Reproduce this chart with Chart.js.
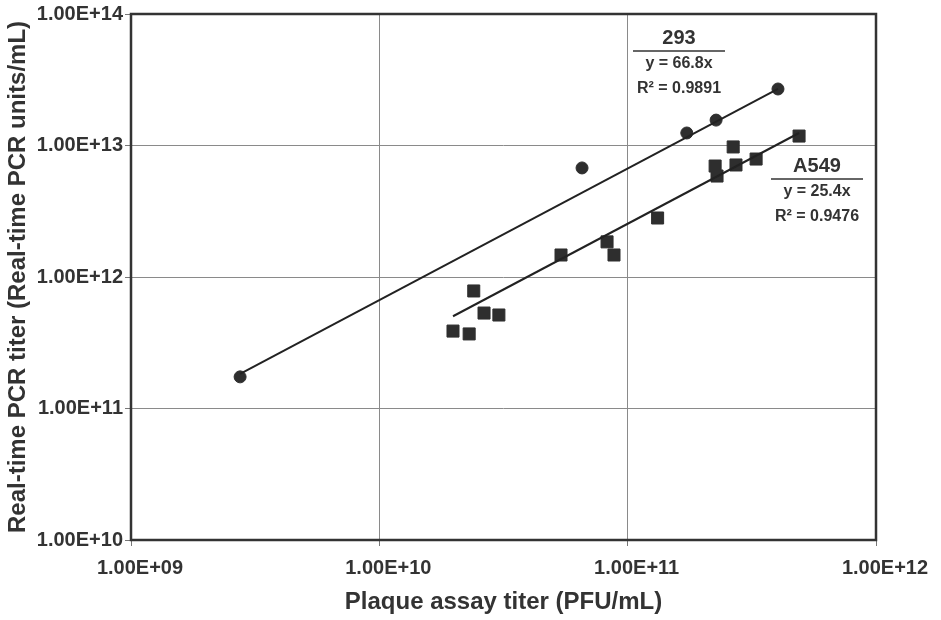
<!DOCTYPE html>
<html>
<head>
<meta charset="utf-8">
<title>Real-time PCR vs plaque assay titer</title>
<script src="https://cdn.jsdelivr.net/npm/chart.js@4.4.1/dist/chart.umd.min.js"></script>
<style>
  body { margin: 0; background: #fff; }
  canvas { display: block; }
</style>
</head>
<body>
<canvas id="titerChart" width="941" height="620"></canvas>
<script>
// Plaque assay titer (PFU/mL) vs real-time PCR titer, two cell lines
const cells293X = [2.75e9, 6.55e10, 1.73e11, 2.27e11, 4.03e11];
const cells293Y = [1.74e11, 6.75e12, 1.245e13, 1.56e13, 2.69e13];

const a549X = [1.98e10, 2.30e10, 2.40e10, 2.64e10, 3.03e10, 5.39e10, 8.26e10, 8.81e10,
  1.32e11, 2.25e11, 2.29e11, 2.66e11, 2.73e11, 3.29e11, 4.90e11];
const a549Y = [3.88e11, 3.69e11, 7.83e11, 5.32e11, 5.14e11, 1.47e12, 1.85e12, 1.47e12,
  2.81e12, 6.98e12, 5.86e12, 9.75e12, 7.11e12, 7.89e12, 1.18e13];

// trendline slopes (y = kx)
const slope293 = 66.8;
const slopeA549 = 25.4;
const r2_293 = "0.9891";
const r2_A549 = "0.9476";

const xTicks = [1e9, 1e10, 1e11, 1e12];
const xTickLabels = ["1.00E+09", "1.00E+10", "1.00E+11", "1.00E+12"];
const yTicks = [1e10, 1e11, 1e12, 1e13, 1e14];
const yTickLabels = ["1.00E+10", "1.00E+11", "1.00E+12", "1.00E+13", "1.00E+14"];

const ink = "#333333";
const fontFamily = "'Liberation Sans', Arial, Helvetica, sans-serif";

function toPoints(xs, ys) {
  return xs.map((x, i) => ({ x: x, y: ys[i] }));
}

function fitLine(xs, k) {
  const lo = Math.min(...xs);
  const hi = Math.max(...xs);
  return [{ x: lo, y: k * lo }, { x: hi, y: k * hi }];
}

// frame around the plot area plus the equation boxes
const framePlugin = {
  id: "frame",
  afterDraw(chart) {
    const { ctx, chartArea: a } = chart;
    ctx.save();
    ctx.strokeStyle = ink;
    ctx.lineWidth = 2.5;
    ctx.strokeRect(a.left, a.top, a.right - a.left, a.bottom - a.top);

    function label(cx, title, k, r2, y0) {
      ctx.fillStyle = ink;
      ctx.textAlign = "center";
      ctx.textBaseline = "middle";
      ctx.font = "bold 20px " + fontFamily;
      ctx.fillText(title, cx, y0);
      ctx.strokeStyle = ink;
      ctx.lineWidth = 1.5;
      ctx.beginPath();
      ctx.moveTo(cx - 46, y0 + 13);
      ctx.lineTo(cx + 46, y0 + 13);
      ctx.stroke();
      ctx.font = "bold 16px " + fontFamily;
      ctx.fillText("y = " + k + "x", cx, y0 + 26);
      ctx.fillText("R\u00B2 = " + r2, cx, y0 + 51);
    }
    label(679, "293", slope293, r2_293, 38);
    label(817, "A549", slopeA549, r2_A549, 166);
    ctx.restore();
  }
};

const ctx = document.getElementById("titerChart").getContext("2d");
new Chart(ctx, {
  type: "scatter",
  data: {
    datasets: [
      {
        label: "293 fit",
        data: fitLine(cells293X, slope293),
        showLine: true,
        borderColor: "#222",
        borderWidth: 2,
        pointRadius: 0
      },
      {
        label: "A549 fit",
        data: fitLine(a549X, slopeA549),
        showLine: true,
        borderColor: "#222",
        borderWidth: 2,
        pointRadius: 0
      },
      {
        label: "293",
        data: toPoints(cells293X, cells293Y),
        pointStyle: "circle",
        pointRadius: 6,
        backgroundColor: "#2e2e2e",
        borderColor: "#2e2e2e"
      },
      {
        label: "A549",
        data: toPoints(a549X, a549Y),
        pointStyle: "rect",
        pointRadius: 8.5,
        backgroundColor: "#2e2e2e",
        borderColor: "#2e2e2e"
      }
    ]
  },
  options: {
    responsive: false,
    animation: false,
    layout: { padding: { left: 0, right: 65, top: 14, bottom: 0 } },
    plugins: {
      legend: { display: false },
      tooltip: { enabled: false }
    },
    scales: {
      x: {
        type: "logarithmic",
        min: xTicks[0],
        max: xTicks[xTicks.length - 1],
        afterBuildTicks: (s) => { s.ticks = xTicks.map((v) => ({ value: v })); },
        afterFit: (s) => { s.height = 80; },
        grid: { color: "#8a8a8a", lineWidth: 1, tickLength: 6, tickColor: "#777" },
        border: { display: false },
        ticks: {
          color: ink,
          padding: 10,
          labelOffset: 9,
          maxRotation: 0,
          font: { family: fontFamily, size: 20, weight: "bold" },
          callback: (v) => xTickLabels[xTicks.indexOf(v)]
        },
        title: {
          display: true,
          text: "Plaque assay titer (PFU/mL)",
          color: ink,
          padding: { top: 0, bottom: 3 },
          font: { family: fontFamily, size: 24, weight: "bold" }
        }
      },
      y: {
        type: "logarithmic",
        min: yTicks[0],
        max: yTicks[yTicks.length - 1],
        afterBuildTicks: (s) => { s.ticks = yTicks.map((v) => ({ value: v })); },
        afterFit: (s) => { s.width = 131; },
        grid: { color: "#8a8a8a", lineWidth: 1, tickLength: 6, tickColor: "#777" },
        border: { display: false },
        ticks: {
          color: ink,
          padding: 2,
          font: { family: fontFamily, size: 20, weight: "bold" },
          callback: (v) => yTickLabels[yTicks.indexOf(v)]
        },
        title: {
          display: true,
          text: "Real-time PCR titer (Real-time PCR units/mL)",
          color: ink,
          padding: { top: 4, bottom: 0 },
          font: { family: fontFamily, size: 24, weight: "bold" }
        }
      }
    }
  },
  plugins: [framePlugin]
});
</script>
</body>
</html>
